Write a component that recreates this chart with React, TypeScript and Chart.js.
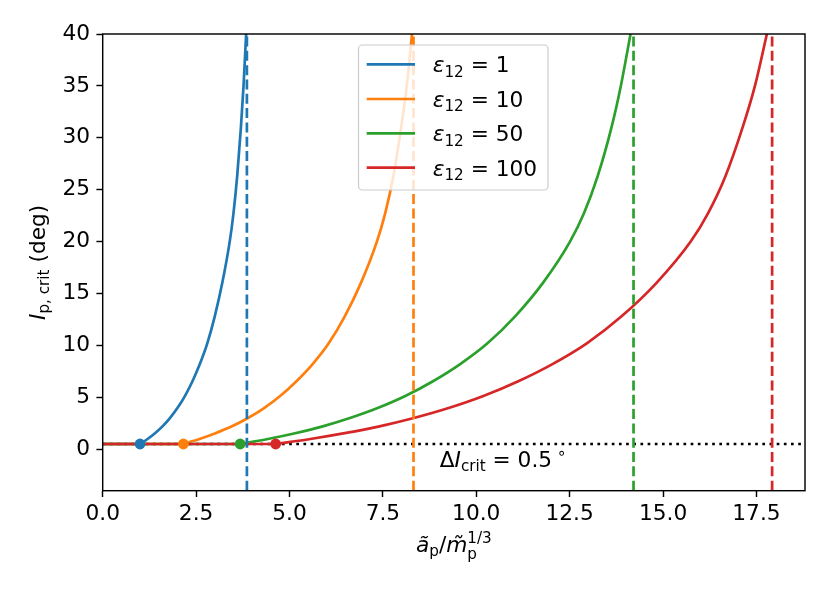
import { useEffect, useRef } from "react";
import { Chart, registerables } from "chart.js";

Chart.register(...registerables);

// ---- data ----
const X_MIN = 0;
const X_MAX = 18.8;
const Y_MIN = -4;
const Y_MAX = 40;
const xTicks = [0, 2.5, 5, 7.5, 10, 12.5, 15, 17.5];
const yTicks = [0, 5, 10, 15, 20, 25, 30, 35, 40];
const epsilonLabels = ["1", "10", "50", "100"];
const colors = ["#1f77b4", "#ff7f0e", "#2ca02c", "#d62728"];
const deltaI = 0.5;
const startX = [1.0, 2.16, 3.68, 4.63];
const asymptoteX = [3.86, 8.32, 14.21, 17.92];

// critical inclination (deg)
const curveY = [0.5, 0.98, 1.54, 2.2, 3.0, 3.96, 5.12, 6.52, 8.2, 10.2, 12.8, 16.0, 20.0, 22.7, 26.3, 31.0, 35.0, 40];
const blueX = [1.0, 1.2, 1.4, 1.6, 1.8, 2.0, 2.2, 2.4, 2.6, 2.8, 3.0, 3.2, 3.4, 3.5, 3.6, 3.7, 3.77, 3.84];
const orangeX = [2.16, 2.59, 3.02, 3.46, 3.89, 4.32, 4.75, 5.18, 5.62, 6.05, 6.48, 6.91, 7.34, 7.56, 7.78, 7.99, 8.14, 8.28];
const greenX = [3.68, 4.42, 5.15, 5.89, 6.62, 7.36, 8.1, 8.83, 9.57, 10.3, 11.04, 11.78, 12.51, 12.88, 13.25, 13.62, 13.87, 14.13];
const redX = [4.63, 5.56, 6.48, 7.41, 8.33, 9.26, 10.19, 11.11, 12.04, 12.96, 13.89, 14.82, 15.74, 16.2, 16.67, 17.13, 17.46, 17.78];

const seriesX = [blueX, orangeX, greenX, redX];

const FONT = '"DejaVu Sans", sans-serif';
const FS = 21.7;
const LW = 2.7;

type Run = { t: string; it?: boolean; sub?: boolean; sup?: boolean; keep?: boolean };

function drawRuns(
  ctx: CanvasRenderingContext2D,
  runs: Run[],
  x: number,
  y: number,
  size: number,
  align: "left" | "center"
) {
  const parts = runs.map((r) => {
    const s = r.sub || r.sup ? size * 0.7 : size;
    const font = `${r.it ? "italic " : ""}${s}px ${FONT}`;
    ctx.font = font;
    const w = ctx.measureText(r.t).width;
    let dy = 0;
    if (r.sub) dy = r.keep ? size * 0.3 : size * 0.2;
    if (r.sup) dy = -size * 0.42;
    return { font, w, dy, t: r.t, keep: r.keep };
  });
  let total = 0;
  for (const p of parts) if (!p.keep) total += p.w;
  let cx = align === "center" ? x - total / 2 : x;
  ctx.textAlign = "left";
  ctx.textBaseline = "alphabetic";
  ctx.fillStyle = "#000";
  for (const p of parts) {
    ctx.font = p.font;
    ctx.fillText(p.t, cx, y + p.dy);
    if (!p.keep) cx += p.w;
  }
}

const decorPlugin = {
  id: "decor",
  afterDraw(chart: any) {
    const { ctx, chartArea } = chart;
    const { left, right, top, bottom } = chartArea;
    const xs = chart.scales.x;
    const ys = chart.scales.y;
    ctx.save();
    // spines
    ctx.strokeStyle = "#000";
    ctx.lineWidth = 1.44;
    ctx.strokeRect(left, top, right - left, bottom - top);

    // annotation text
    drawRuns(
      ctx,
      [{ t: "Δ" }, { t: "I", it: true }, { t: "crit", sub: true }, { t: " = 0.5" }, { t: " ∘", sup: true }],
      xs.getPixelForValue(9.02),
      ys.getPixelForValue(-1.68),
      FS,
      "left"
    );

    // x axis title
    drawRuns(
      ctx,
      [
        { t: "ã", it: true },
        { t: "p", sub: true },
        { t: "/" },
        { t: "m\u0303", it: true },
        { t: "p", sub: true, keep: true },
        { t: "1/3", sup: true },
      ],
      (left + right) / 2,
      552,
      FS,
      "center"
    );

    // y axis title
    ctx.save();
    ctx.translate(45, (top + bottom) / 2);
    ctx.rotate(-Math.PI / 2);
    drawRuns(ctx, [{ t: "I", it: true }, { t: "p, crit", sub: true }, { t: " (deg)" }], 0, 0, FS, "center");
    ctx.restore();

    // legend
    const lx = 358.5;
    const ly = 45;
    const lw = 189.5;
    const lh = 145;
    ctx.beginPath();
    ctx.roundRect(lx, ly, lw, lh, 4);
    ctx.fillStyle = "rgba(255,255,255,0.8)";
    ctx.fill();
    ctx.strokeStyle = "#cccccc";
    ctx.lineWidth = 1.2;
    ctx.stroke();
    const rows = [64.3, 99, 133.3, 167.7];
    epsilonLabels.forEach((lab, i) => {
      const ry = rows[i];
      ctx.beginPath();
      ctx.moveTo(366.7, ry);
      ctx.lineTo(415, ry);
      ctx.strokeStyle = colors[i];
      ctx.lineWidth = LW;
      ctx.lineCap = "butt";
      ctx.stroke();
      drawRuns(ctx, [{ t: "ε", it: true }, { t: "12", sub: true }, { t: " = " + lab }], 432.7, ry + 7.9, FS, "left");
    });
    ctx.restore();
  },
};

export default function App() {
  const canvasRef = useRef<HTMLCanvasElement | null>(null);

  useEffect(() => {
    document.body.style.margin = "0";
    const canvas = canvasRef.current;
    if (!canvas) return;
    Chart.defaults.font.family = FONT;
    Chart.defaults.color = "#000";

    const datasets: any[] = [];
    // dotted horizontal line
    datasets.push({
      type: "line",
      data: [
        { x: X_MIN, y: deltaI },
        { x: X_MAX, y: deltaI },
      ],
      borderColor: "#000",
      borderWidth: LW,
      borderDash: [2.7, 4.47],
      pointRadius: 0,
      order: 20,
    });
    // flat parts + curves
    seriesX.forEach((xs, i) => {
      datasets.push({
        type: "line",
        data: [
          { x: X_MIN, y: deltaI },
          { x: startX[i], y: deltaI },
        ],
        borderColor: colors[i],
        borderWidth: LW,
        pointRadius: 0,
        order: 10 - i,
      });
      datasets.push({
        type: "line",
        data: xs.map((x, j) => ({ x, y: curveY[j] })),
        borderColor: colors[i],
        borderWidth: LW,
        pointRadius: 0,
        cubicInterpolationMode: "monotone",
        order: 10 - i,
      });
    });
    // dashed asymptotes
    asymptoteX.forEach((ax, i) => {
      datasets.push({
        type: "line",
        data: [
          { x: ax, y: Y_MIN },
          { x: ax, y: Y_MAX },
        ],
        borderColor: colors[i],
        borderWidth: LW,
        borderDash: [10, 4.33],
        pointRadius: 0,
        order: 5,
      });
    });
    // start dots
    datasets.push({
      type: "scatter",
      data: startX.map((x) => ({ x, y: deltaI })),
      pointBackgroundColor: colors,
      pointBorderWidth: 0,
      pointRadius: 5.4,
      showLine: false,
      order: 0,
    });

    const chart = new Chart(canvas, {
      type: "line",
      data: { datasets },
      options: {
        animation: false,
        responsive: true,
        maintainAspectRatio: false,
        layout: { padding: { left: 0, right: 25, top: 34, bottom: 0 } },
        plugins: { legend: { display: false }, tooltip: { enabled: false } },
        scales: {
          x: {
            type: "linear",
            min: X_MIN,
            max: X_MAX,
            afterBuildTicks: (s: any) => {
              s.ticks = xTicks.map((v) => ({ value: v }));
            },
            afterFit: (s: any) => {
              s.height = 593 - 490.7;
            },
            ticks: {
              callback: (v: any) => Number(v).toFixed(1),
              font: { size: FS, family: FONT },
              color: "#000",
              padding: 4,
              maxRotation: 0,
              autoSkip: false,
            },
            grid: {
              display: true,
              drawOnChartArea: false,
              drawTicks: true,
              tickLength: 6.3,
              tickWidth: 1.44,
              tickColor: "#000",
            },
            border: { display: false },
          },
          y: {
            type: "linear",
            min: Y_MIN,
            max: Y_MAX,
            afterBuildTicks: (s: any) => {
              s.ticks = yTicks.map((v) => ({ value: v }));
            },
            afterFit: (s: any) => {
              s.width = 102.7;
            },
            ticks: {
              callback: (v: any) => String(v),
              font: { size: FS, family: FONT },
              color: "#000",
              padding: 6.3,
              autoSkip: false,
            },
            grid: {
              display: true,
              drawOnChartArea: false,
              drawTicks: true,
              tickLength: 6.3,
              tickWidth: 1.44,
              tickColor: "#000",
            },
            border: { display: false },
          },
        },
      },
      plugins: [decorPlugin],
    });
    return () => chart.destroy();
  }, []);

  return (
    <div style={{ position: "absolute", left: 0, top: 0, width: 830, height: 593, background: "#fff" }}>
      <canvas ref={canvasRef} />
    </div>
  );
}
